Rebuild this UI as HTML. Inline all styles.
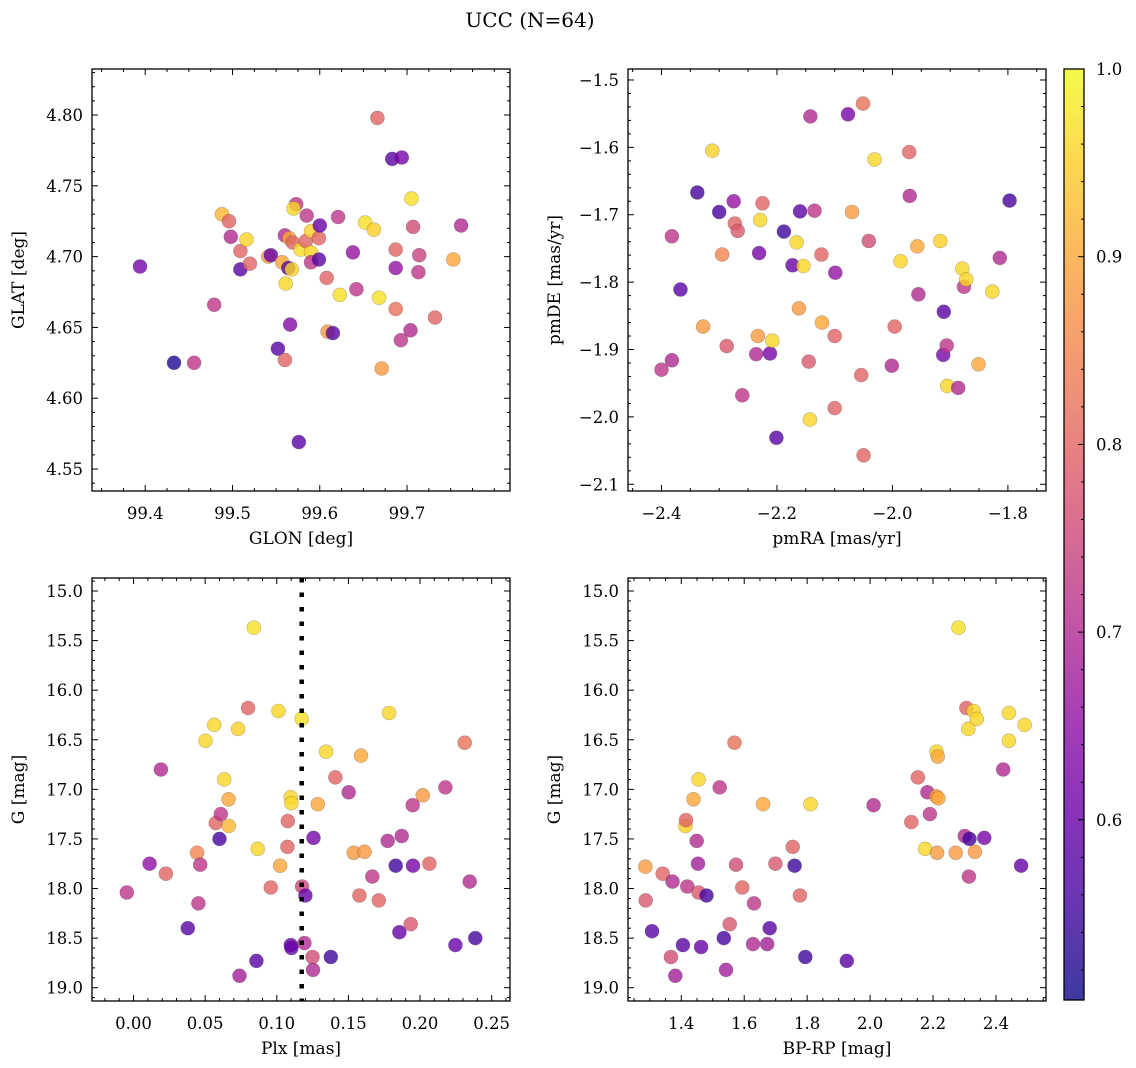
<!DOCTYPE html>
<html><head><meta charset="utf-8"><style>
html,body{margin:0;padding:0;background:#fff;}
svg{display:block;font-family:"DejaVu Serif","Liberation Serif",serif;}
</style></head><body>
<svg id="fig" width="1136" height="1068" viewBox="0 0 1136 1068" xmlns="http://www.w3.org/2000/svg">
<text x="530" y="27" font-size="20" text-anchor="middle">UCC (N=64)</text>
</svg>
<script>
// ---- Panel 1: GLON vs GLAT ----
const glonX = [99.394,99.433,99.456,99.479,99.488,99.496,99.498,99.509,99.509,99.516,99.520,99.541,99.544,99.552,99.560,99.561,99.557,99.560,99.565,99.564,99.568,99.566,99.569,99.573,99.570,99.576,99.578,99.585,99.584,99.590,99.590,99.590,99.599,99.600,99.599,99.608,99.609,99.615,99.621,99.623,99.638,99.642,99.652,99.662,99.666,99.668,99.671,99.683,99.694,99.687,99.687,99.687,99.693,99.704,99.705,99.707,99.714,99.713,99.732,99.753,99.762];
const glatY = [4.693,4.625,4.625,4.666,4.730,4.725,4.714,4.704,4.691,4.712,4.695,4.700,4.701,4.635,4.627,4.681,4.696,4.715,4.713,4.692,4.691,4.652,4.710,4.737,4.734,4.569,4.705,4.729,4.711,4.718,4.703,4.696,4.713,4.722,4.698,4.685,4.647,4.646,4.728,4.673,4.703,4.677,4.724,4.719,4.798,4.671,4.621,4.769,4.770,4.705,4.692,4.663,4.641,4.648,4.741,4.721,4.701,4.689,4.657,4.698,4.722];
const glProb = [0.62,0.52,0.72,0.72,0.92,0.8,0.7,0.8,0.58,0.96,0.8,0.88,0.6,0.58,0.8,0.96,0.9,0.7,0.9,0.58,0.96,0.64,0.8,0.72,0.96,0.58,0.97,0.72,0.8,0.95,0.96,0.72,0.8,0.6,0.58,0.8,0.88,0.58,0.72,0.97,0.66,0.72,0.97,0.95,0.8,0.97,0.88,0.58,0.62,0.8,0.66,0.82,0.72,0.7,0.97,0.76,0.74,0.72,0.8,0.9,0.7];
const glonTicks = [99.4,99.5,99.6,99.7];
const glatTicks = [4.55,4.60,4.65,4.70,4.75,4.80];

// ---- Panel 2: pmRA vs pmDE ----
const pmraX = [-2.400,-2.382,-2.382,-2.367,-2.338,-2.328,-2.312,-2.300,-2.295,-2.287,-2.275,-2.273,-2.268,-2.260,-2.236,-2.233,-2.231,-2.229,-2.225,-2.212,-2.208,-2.201,-2.188,-2.173,-2.166,-2.162,-2.160,-2.154,-2.145,-2.143,-2.142,-2.135,-2.123,-2.122,-2.100,-2.100,-2.099,-2.077,-2.070,-2.054,-2.051,-2.050,-2.041,-2.031,-2.001,-1.996,-1.986,-1.971,-1.970,-1.957,-1.955,-1.917,-1.911,-1.912,-1.906,-1.905,-1.886,-1.879,-1.876,-1.872,-1.851,-1.827,-1.814,-1.797];
const pmdeY = [-1.930,-1.732,-1.916,-1.811,-1.667,-1.866,-1.605,-1.696,-1.759,-1.895,-1.680,-1.713,-1.724,-1.968,-1.907,-1.880,-1.757,-1.708,-1.683,-1.906,-1.887,-2.031,-1.725,-1.775,-1.741,-1.839,-1.695,-1.776,-1.918,-2.004,-1.554,-1.694,-1.759,-1.860,-1.880,-1.987,-1.786,-1.551,-1.696,-1.938,-1.535,-2.057,-1.739,-1.618,-1.924,-1.866,-1.769,-1.607,-1.672,-1.747,-1.818,-1.739,-1.844,-1.908,-1.894,-1.954,-1.957,-1.780,-1.807,-1.796,-1.922,-1.814,-1.764,-1.679];
const pmProb = [0.72,0.72,0.7,0.58,0.56,0.88,0.95,0.56,0.85,0.78,0.66,0.8,0.78,0.72,0.7,0.88,0.62,0.96,0.8,0.62,0.96,0.58,0.55,0.6,0.96,0.88,0.58,0.96,0.78,0.96,0.7,0.72,0.8,0.9,0.8,0.8,0.66,0.62,0.88,0.8,0.82,0.8,0.76,0.96,0.7,0.8,0.96,0.8,0.7,0.9,0.7,0.95,0.58,0.62,0.72,0.96,0.7,0.96,0.72,0.96,0.9,0.96,0.7,0.56];
const pmraTicks = [-2.4,-2.2,-2.0,-1.8];
const pmdeTicks = [-1.5,-1.6,-1.7,-1.8,-1.9,-2.0,-2.1];

// ---- Panel 3: Plx vs G ----
const plxX = [-0.0047,0.0112,0.0191,0.0226,0.0379,0.0444,0.0465,0.0453,0.0502,0.0563,0.0574,0.0600,0.0609,0.0633,0.0663,0.0665,0.0730,0.0740,0.0800,0.0840,0.0858,0.0867,0.0958,0.1012,0.1023,0.1077,0.1074,0.1098,0.1102,0.1098,0.1102,0.1174,0.1177,0.1200,0.1193,0.1249,0.1253,0.1256,0.1286,0.1344,0.1377,0.1409,0.1502,0.1537,0.1612,0.1577,0.1588,0.1667,0.1712,0.1774,0.1784,0.1830,0.1856,0.1872,0.1935,0.1949,0.1951,0.2019,0.2065,0.2177,0.2247,0.2312,0.2347,0.2386];
const plxG = [18.04,17.75,16.80,17.85,18.40,17.64,17.76,18.15,16.51,16.35,17.34,17.50,17.25,16.90,17.10,17.37,16.39,18.88,16.18,15.37,18.73,17.60,17.99,16.21,17.77,17.32,17.58,17.08,17.14,18.57,18.60,16.29,17.98,18.07,18.55,18.69,18.82,17.49,17.15,16.62,18.69,16.88,17.03,17.64,17.63,18.07,16.66,17.88,18.12,17.52,16.23,17.77,18.44,17.47,18.36,17.16,17.77,17.06,17.75,16.98,18.57,16.53,17.93,18.50];
const plxProb = [0.72,0.65,0.7,0.8,0.58,0.85,0.72,0.72,0.96,0.96,0.8,0.56,0.72,0.96,0.9,0.92,0.95,0.68,0.8,0.97,0.58,0.96,0.8,0.96,0.9,0.8,0.8,0.96,0.96,0.6,0.6,0.97,0.75,0.6,0.7,0.76,0.7,0.62,0.9,0.96,0.55,0.8,0.7,0.88,0.88,0.8,0.9,0.72,0.8,0.7,0.96,0.55,0.6,0.7,0.78,0.72,0.62,0.88,0.8,0.72,0.6,0.82,0.7,0.56];
const plxRef = [0.1174];
const plxTicks = [0.00,0.05,0.10,0.15,0.20,0.25];
const gTicks = [15.0,15.5,16.0,16.5,17.0,17.5,18.0,18.5,19.0];

// ---- Panel 4: BP-RP vs G ----
const bprpX = [1.286,1.287,1.307,1.341,1.367,1.372,1.381,1.405,1.413,1.415,1.419,1.439,1.449,1.453,1.455,1.455,1.463,1.480,1.522,1.535,1.542,1.554,1.569,1.574,1.594,1.628,1.631,1.660,1.673,1.681,1.699,1.754,1.760,1.777,1.794,1.811,1.926,2.011,2.131,2.152,2.175,2.182,2.190,2.211,2.215,2.210,2.217,2.213,2.272,2.281,2.301,2.306,2.312,2.316,2.314,2.329,2.333,2.339,2.363,2.423,2.441,2.441,2.480,2.491];
const bprpG = [17.78,18.12,18.43,17.85,18.69,17.93,18.88,18.57,17.37,17.31,17.98,17.10,17.52,17.75,16.90,18.04,18.59,18.07,16.98,18.50,18.82,18.36,16.53,17.76,17.99,18.56,18.15,17.15,18.56,18.40,17.75,17.58,17.77,18.07,18.69,17.15,18.73,17.16,17.33,16.88,17.60,17.03,17.25,16.62,16.67,17.07,17.09,17.64,17.64,15.37,17.47,16.18,16.39,17.50,17.88,16.21,17.63,16.29,17.49,16.80,16.23,16.51,17.77,16.35];
const bprpProb = [0.88,0.78,0.58,0.8,0.76,0.7,0.68,0.58,0.95,0.8,0.72,0.9,0.7,0.68,0.96,0.78,0.6,0.56,0.72,0.56,0.68,0.78,0.82,0.76,0.8,0.7,0.72,0.9,0.68,0.58,0.78,0.8,0.55,0.8,0.55,0.96,0.58,0.7,0.8,0.8,0.96,0.7,0.72,0.96,0.9,0.88,0.9,0.88,0.88,0.97,0.7,0.8,0.96,0.56,0.72,0.96,0.88,0.96,0.62,0.7,0.96,0.96,0.6,0.96];
const bprpTicks = [1.4,1.6,1.8,2.0,2.2,2.4];

// ---- Colorbar ----
const cbTicks = [0.6,0.7,0.8,0.9,1.0];
const cbRange = [0.504,1.0];

const NS = "http://www.w3.org/2000/svg";
const svg = document.getElementById('fig');
function mk(tag, attrs, parent){const e=document.createElementNS(NS,tag);for(const k in attrs)e.setAttribute(k,attrs[k]);(parent||svg).appendChild(e);return e;}

const plasma=[[13,8,135],[65,4,157],[106,0,168],[143,13,164],[177,42,144],[204,71,120],[225,100,98],[242,132,75],[252,166,54],[252,206,37],[240,249,33]];
function cmap(p){let t=(p-cbRange[0])/(cbRange[1]-cbRange[0]);t=Math.max(0,Math.min(1,t))*10;const i=Math.min(9,Math.floor(t)),f=t-i;const a=plasma[i],b=plasma[i+1];return 'rgb('+a.map((v,k)=>Math.round(v+(b[k]-v)*f)).join(',')+')';}
function fmtNum(v,d){const s=Math.abs(v).toFixed(d);return (v<-1e-9?'\u2212':'')+s;}

function panel(cfg){
  const [x0,y0,x1,y1]=cfg.box;
  const g=mk('g',{});
  
  
  const sx=v=>x0+(v-cfg.xr[0])/(cfg.xr[1]-cfg.xr[0])*(x1-x0);
  const sy=cfg.invert? v=>y0+(v-cfg.yr[0])/(cfg.yr[1]-cfg.yr[0])*(y1-y0) : v=>y1-(v-cfg.yr[0])/(cfg.yr[1]-cfg.yr[0])*(y1-y0);
  for(let i=0;i<cfg.xs.length;i++){
    const c=mk('circle',{cx:sx(cfg.xs[i]).toFixed(1),cy:sy(cfg.ys[i]).toFixed(1),r:7,fill:cmap(cfg.cs[i]),'fill-opacity':0.8,stroke:'rgba(60,60,60,0.35)','stroke-width':0.6},g);
    
    
  }
  if(cfg.vline){const l=mk('line',{x1:sx(cfg.vline),x2:sx(cfg.vline),y1:y0,y2:y1,stroke:'#000','stroke-width':4.5,'stroke-dasharray':'4.5,10'},g);
    
    }
  const fr=mk('rect',{x:x0,y:y0,width:x1-x0,height:y1-y0,fill:'none',stroke:'#000','stroke-width':1.3},g);
  
  
  const tk=(vals,step,isX)=>{
    const lo=Math.min(...(isX?cfg.xr:cfg.yr)),hi=Math.max(...(isX?cfg.xr:cfg.yr));
    for(let k=Math.ceil(lo/step-1e-6);k*step<=hi+1e-9;k++){
      const v=k*step; if(vals.some(m=>Math.abs(m-v)<step*0.1))continue;
      if(isX){const p=sx(v);mk('line',{x1:p,x2:p,y1:y1,y2:y1-3,stroke:'#000'},g);mk('line',{x1:p,x2:p,y1:y0,y2:y0+3,stroke:'#000'},g);}
      else{const p=sy(v);mk('line',{x1:x0,x2:x0+3,y1:p,y2:p,stroke:'#000'},g);mk('line',{x1:x1,x2:x1-3,y1:p,y2:p,stroke:'#000'},g);}
    }
    vals.forEach(v=>{
      if(isX){const p=sx(v);mk('line',{x1:p,x2:p,y1:y1,y2:y1-6,stroke:'#000'},g);mk('line',{x1:p,x2:p,y1:y0,y2:y0+6,stroke:'#000'},g);
        const t=mk('text',{x:p,y:y1+28,'font-size':16.5,'text-anchor':'middle'},g);t.textContent=fmtNum(v,cfg.xd);
        
        }
      else{const p=sy(v);mk('line',{x1:x0,x2:x0+6,y1:p,y2:p,stroke:'#000'},g);mk('line',{x1:x1,x2:x1-6,y1:p,y2:p,stroke:'#000'},g);
        const t=mk('text',{x:x0-9,y:p+6,'font-size':16.5,'text-anchor':'end'},g);t.textContent=fmtNum(v,cfg.yd);
        
        }
    });
  };
  tk(cfg.xt,cfg.xm,true); tk(cfg.yt,cfg.ym,false);
  const xl=mk('text',{x:(x0+x1)/2,y:y1+53,'font-size':17,'text-anchor':'middle'},g);xl.textContent=cfg.xlabel;
  
  
  const yx=x0-68, yc=(y0+y1)/2;
  const yl=mk('text',{x:yx,y:yc,'font-size':17,'text-anchor':'middle',transform:'rotate(-90 '+yx+' '+yc+')'},g);yl.textContent=cfg.ylabel;
  
  
}

panel({name:'glon-glat-panel',box:[92,69,510,491],xr:[99.339,99.818],yr:[4.5345,4.8325],xs:glonX,ys:glatY,cs:glProb,xt:glonTicks,xm:0.025,yt:glatTicks,ym:0.01,xd:1,yd:2,xlabel:'GLON [deg]',ylabel:'GLAT [deg]'});
panel({name:'pm-panel',box:[628,69,1046,491],xr:[-2.458,-1.734],yr:[-2.110,-1.4837],xs:pmraX,ys:pmdeY,cs:pmProb,xt:pmraTicks,xm:0.05,yt:pmdeTicks,ym:0.02,xd:1,yd:1,xlabel:'pmRA [mas/yr]',ylabel:'pmDE [mas/yr]'});
panel({name:'plx-g-panel',box:[92,578,510,1001],xr:[-0.029,0.2628],yr:[14.869,19.134],invert:true,xs:plxX,ys:plxG,cs:plxProb,xt:plxTicks,xm:0.01,yt:gTicks,ym:0.1,xd:2,yd:1,vline:plxRef[0],xlabel:'Plx [mas]',ylabel:'G [mag]'});
panel({name:'cmd-panel',box:[628,578,1046,1001],xr:[1.2307,2.559],yr:[14.869,19.134],invert:true,xs:bprpX,ys:bprpG,cs:bprpProb,xt:bprpTicks,xm:0.05,yt:gTicks,ym:0.1,xd:1,yd:1,xlabel:'BP-RP [mag]',ylabel:'G [mag]'});

(function(){
  const x0=1064,x1=1084,y0=69,y1=1000;
  const g=mk('g',{});
  
  
  const defs=mk('defs',{},g);
  const lg=mk('linearGradient',{id:'cbg',x1:0,y1:1,x2:0,y2:0},defs);
  for(let i=0;i<=10;i++){mk('stop',{offset:(i/10),'stop-color':cmap(cbRange[0]+i/10*(cbRange[1]-cbRange[0]))},lg);}
  mk('rect',{x:x0,y:y0,width:x1-x0,height:y1-y0,fill:'url(#cbg)','fill-opacity':0.8},g);
  mk('rect',{x:x0,y:y0,width:x1-x0,height:y1-y0,fill:'none',stroke:'#000','stroke-width':1.3},g);
  const sy=v=>y1-(v-cbRange[0])/(cbRange[1]-cbRange[0])*(y1-y0);
  for(let k=Math.ceil(cbRange[0]/0.02);k*0.02<=cbRange[1]+1e-9;k++){const v=k*0.02;if(Math.abs(v*10-Math.round(v*10))<1e-6)continue;mk('line',{x1:x1,x2:x1-3,y1:sy(v),y2:sy(v),stroke:'#000'},g);}
  cbTicks.forEach(v=>{const p=sy(v);mk('line',{x1:x1,x2:x1-6,y1:p,y2:p,stroke:'#000'},g);
    const t=mk('text',{x:x1+12,y:p+6,'font-size':16.5},g);t.textContent=v.toFixed(1);
    
    });
})();
</script>
</body></html>
